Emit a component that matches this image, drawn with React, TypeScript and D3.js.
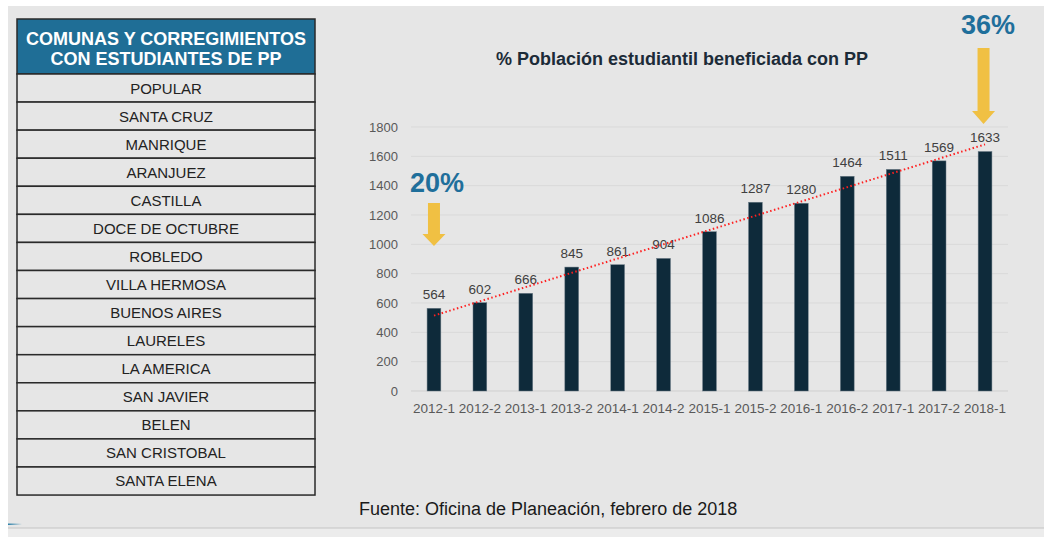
import React from "react";
import * as d3 from "d3";

const categories = ["2012-1","2012-2","2013-1","2013-2","2014-1","2014-2","2015-1","2015-2","2016-1","2016-2","2017-1","2017-2","2018-1"];
const students = [564,602,666,845,861,904,1086,1287,1280,1464,1511,1569,1633];
const yTicks = [0,200,400,600,800,1000,1200,1400,1600,1800];
const tableHeader = ["COMUNAS Y CORREGIMIENTOS","CON ESTUDIANTES DE PP"];
const comunas = ["POPULAR","SANTA CRUZ","MANRIQUE","ARANJUEZ","CASTILLA","DOCE DE OCTUBRE","ROBLEDO","VILLA HERMOSA","BUENOS AIRES","LAURELES","LA AMERICA","SAN JAVIER","BELEN","SAN CRISTOBAL","SANTA ELENA"];
const title = "% Población estudiantil beneficiada con PP";
const startPct = "20%";
const endPct = "36%";
const source = "Fuente: Oficina de Planeación, febrero de 2018";

const W = 1044, H = 537;
const FONT = "'Liberation Sans', Arial, sans-serif";

export default function App() {
  const x = d3.scaleBand<string>().domain(categories).range([411, 1008]).paddingInner(0.7).paddingOuter(0.35);
  const y = d3.scaleLinear().domain([0, 1800]).range([391, 127]);
  const bw = x.bandwidth();
  const cx = (c: string) => (x(c) as number) + bw / 2;

  // linear trend (least squares)
  const n = students.length;
  const mx = d3.mean(d3.range(n)) as number;
  const my = d3.mean(students) as number;
  const slope = d3.sum(students, (v, i) => (i - mx) * (v - my)) / d3.sum(d3.range(n), (i) => (i - mx) ** 2);
  const icpt = my - slope * mx;
  const trend = d3.line<number>().x((i) => cx(categories[i])).y((i) => y(icpt + slope * i));
  const trendPts = [0, n - 1];

  const tableX0 = 17, tableX1 = 315, headTop = 19, headBot = 74, rowH = 28.07;

  const arrow = (xc: number, top: number, headY: number, tip: number) => {
    const sw = 6, hw = 11.5;
    return `M${xc - sw},${top} L${xc + sw},${top} L${xc + sw},${headY} L${xc + hw},${headY} L${xc},${tip} L${xc - hw},${headY} L${xc - sw},${headY} Z`;
  };

  const xFirst = cx(categories[0]);
  const xLast = cx(categories[n - 1]);

  return (
    <div style={{ position: "absolute", left: 0, top: 0 }}>
      <svg width={W} height={H} style={{ display: "block", fontFamily: FONT }}>
        <defs>
          <linearGradient id="blueMark" x1="0" x2="1">
            <stop offset="0" stopColor="#2a7fa8" />
            <stop offset="1" stopColor="#2a7fa8" stopOpacity="0" />
          </linearGradient>
        </defs>
        <rect x={0} y={0} width={W} height={H} fill="#ffffff" />
        <rect x={8} y={6} width={W - 8} height={522} fill="#e6e6e6" />
        <rect x={8} y={528} width={W - 8} height={H - 528} fill="#ececec" />
        <line x1={8} x2={W} y1={528} y2={528} stroke="#c4c4c4" strokeWidth={1} />
        <rect x={8} y={523.5} width={14} height={1.5} fill="url(#blueMark)" />

        {/* table */}
        <rect x={tableX0} y={headTop} width={tableX1 - tableX0} height={headBot - headTop} fill="#1f6e96" stroke="#2a2a2a" strokeWidth={1.5} />
        {tableHeader.map((t, i) => (
          <text key={t} x={(tableX0 + tableX1) / 2} y={45 + i * 20} textAnchor="middle" fill="#ffffff" fontWeight="bold" fontSize={18}>{t}</text>
        ))}
        {comunas.map((c, i) => (
          <g key={c}>
            <rect x={tableX0} y={headBot + i * rowH} width={tableX1 - tableX0} height={rowH} fill="#e6e6e6" stroke="#2a2a2a" strokeWidth={1.5} />
            <text x={(tableX0 + tableX1) / 2} y={headBot + i * rowH + 19.5} textAnchor="middle" fill="#222" fontSize={15}>{c}</text>
          </g>
        ))}

        {/* title */}
        <text x={682} y={65} textAnchor="middle" fill="#1c2b38" fontWeight="bold" fontSize={18}>{title}</text>

        {/* grid */}
        {yTicks.map((t) => (
          <g key={t}>
            <line x1={411} x2={1008} y1={y(t)} y2={y(t)} stroke={t === 0 ? "#cfcfcf" : "#d9d9d9"} strokeWidth={1} />
            <text x={398} y={y(t) + 4.5} textAnchor="end" fill="#595959" fontSize={13}>{t}</text>
          </g>
        ))}

        {/* bars */}
        {categories.map((c, i) => (
          <g key={c}>
            <rect x={x(c)} y={y(students[i])} width={bw} height={y(0) - y(students[i])} fill="#0e2a3a" stroke="#6b7b86" strokeWidth={0.5} />
            <text x={cx(c)} y={y(students[i]) - 9} textAnchor="middle" fill="#404040" fontSize={13.5}>{students[i]}</text>
            <text x={cx(c)} y={413} textAnchor="middle" fill="#595959" fontSize={13.5}>{c}</text>
          </g>
        ))}

        {/* trend */}
        <path d={trend(trendPts) as string} fill="none" stroke="#ff2020" strokeWidth={2} strokeDasharray="1.5 2.5" />

        {/* annotations */}
        <path d={arrow(xFirst, 203, 234, 246)} fill="#f0c043" />
        <text x={410} y={192} fill="#1f6f9b" fontWeight="bold" fontSize={27}>{startPct}</text>
        <path d={arrow(xLast - 1.5, 48, 111, 124)} fill="#f0c043" />
        <text x={961} y={34} fill="#1f6f9b" fontWeight="bold" fontSize={27}>{endPct}</text>

        <text x={359} y={515} fill="#1a1a1a" fontSize={18}>{source}</text>
      </svg>
    </div>
  );
}
